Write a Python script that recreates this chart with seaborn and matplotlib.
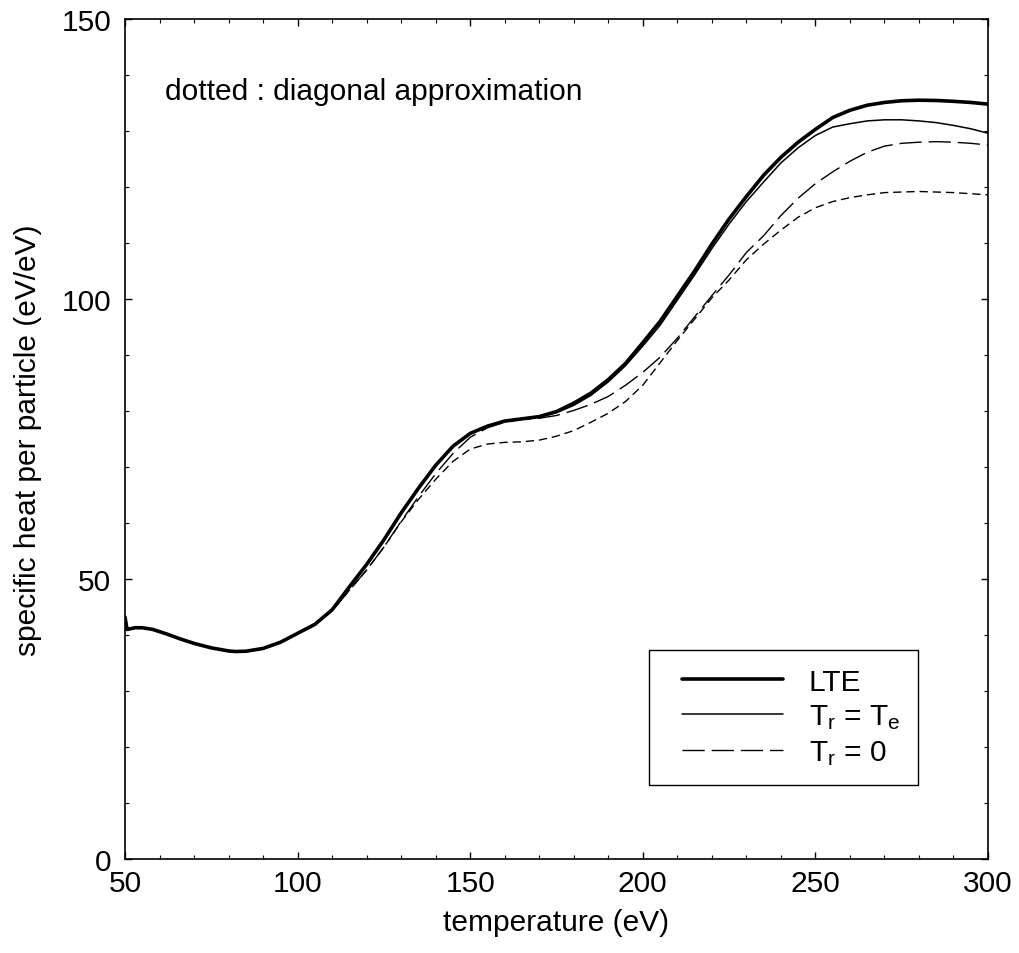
import numpy as np
import pandas as pd
import matplotlib
matplotlib.use("Agg")
import matplotlib.pyplot as plt
import seaborn as sns
from matplotlib.ticker import MultipleLocator
from matplotlib.legend_handler import HandlerLine2D
from matplotlib.lines import Line2D

# ---------------- data ----------------
x_common = [50, 50.6, 53, 55, 58, 62, 66, 70, 75, 80, 82, 85, 90, 95, 100, 105]
y_common = [43.2, 41.0, 41.3, 41.3, 41.0, 40.2, 39.3, 38.5, 37.7, 37.15, 37.05, 37.1,
            37.6, 38.7, 40.3, 41.9]

x_lte = x_common + [110, 115, 120, 125, 130, 135, 140, 145, 150, 155, 160, 165, 170, 175,
                    180, 185, 190, 195, 200, 205, 210, 215, 220, 225, 230, 235, 240, 245,
                    250, 255, 260, 265, 270, 275, 280, 285, 290, 295, 300]
y_lte = y_common + [44.5, 48.6, 52.6, 57.0, 61.8, 66.2, 70.3, 73.7, 76.0, 77.3, 78.2, 78.6,
                    79.0, 79.9, 81.4, 83.2, 85.6, 88.5, 92.2, 96.0, 100.5, 105.0, 109.8,
                    114.3, 118.3, 122.1, 125.3, 128.0, 130.3, 132.4, 133.7, 134.6, 135.1,
                    135.4, 135.5, 135.45, 135.3, 135.1, 134.8]

x_tre = x_lte
y_tre = y_common + [44.5, 48.6, 52.6, 57.0, 61.8, 66.2, 70.3, 73.7, 76.0, 77.3, 78.2, 78.6,
                    78.9, 79.7, 81.0, 82.8, 85.2, 88.1, 91.6, 95.3, 99.8, 104.3, 109.0,
                    113.4, 117.4, 120.9, 124.3, 127.0, 129.2, 130.7, 131.3, 131.8, 132.0,
                    132.0, 131.8, 131.5, 131.0, 130.4, 129.6]

x_tr0 = x_lte
y_tr0 = y_common + [44.3, 48.0, 51.6, 55.7, 60.3, 64.7, 68.8, 72.4, 75.3, 77.0, 78.0, 78.5,
                    78.7, 79.2, 80.1, 81.2, 82.6, 84.6, 86.9, 89.6, 93.0, 96.8, 100.6,
                    104.3, 108.3, 111.3, 114.9, 118.0, 120.6, 122.7, 124.6, 126.2, 127.3,
                    127.8, 128.0, 128.1, 128.0, 127.8, 127.5]

x_diag = x_lte
y_diag = y_common + [44.3, 48.0, 51.6, 55.7, 60.2, 64.2, 67.8, 71.0, 73.2, 74.1, 74.4, 74.5,
                     74.8, 75.5, 76.5, 78.0, 79.6, 81.7, 84.6, 88.6, 92.6, 96.4, 100.2,
                     103.4, 107.0, 109.8, 112.3, 114.6, 116.3, 117.4, 118.1, 118.6, 119.0,
                     119.1, 119.2, 119.1, 119.0, 118.8, 118.6]

labels = ["LTE", r"$T_r$ = $T_e$", r"$T_r$ = 0"]
x_ticks = [50, 100, 150, 200, 250, 300]
y_ticks = [0, 50, 100, 150]

# ---------------- styling ----------------
sns.set_theme(style="ticks")
plt.rcParams["font.family"] = ["Liberation Sans", "DejaVu Sans"]
plt.rcParams["mathtext.default"] = "regular"
for k in ["text.color", "axes.labelcolor", "xtick.color", "ytick.color",
          "axes.edgecolor"]:
    plt.rcParams[k] = "black"

fig = plt.figure(figsize=(10.19, 9.54), dpi=100)
ax = fig.add_axes([125 / 1019, 1 - 860 / 954, (988 - 125) / 1019, (860 - 20) / 954])

FS = 21.5

sns.lineplot(x=x_diag, y=y_diag, ax=ax, color="black", lw=1.0, estimator=None,
             sort=False, linestyle=(0, (6, 3.5)))
sns.lineplot(x=x_tr0, y=y_tr0, ax=ax, color="black", lw=1.0, estimator=None,
             sort=False, linestyle=(0, (16, 5)), label=labels[2])
sns.lineplot(x=x_tre, y=y_tre, ax=ax, color="black", lw=1.1, estimator=None,
             sort=False, label=labels[1])
sns.lineplot(x=x_lte, y=y_lte, ax=ax, color="black", lw=2.6, estimator=None,
             sort=False, label=labels[0])

ax.set_xlim(50, 300)
ax.set_ylim(0, 150)
ax.set_xticks(x_ticks)
ax.set_yticks(y_ticks)
ax.xaxis.set_minor_locator(MultipleLocator(10))
ax.yaxis.set_minor_locator(MultipleLocator(10))
ax.tick_params(which="both", direction="in", top=True, right=True, color="black",
               labelcolor="black", labelsize=FS)
ax.tick_params(which="major", length=5, width=1.0)
ax.tick_params(which="minor", length=3, width=0.8)
ax.tick_params(axis="x", which="major", pad=7)
ax.tick_params(axis="y", which="major", pad=10)
for s in ax.spines.values():
    s.set_visible(True)
    s.set_color("black")
    s.set_linewidth(1.2)

ax.set_xlabel("temperature (eV)", fontsize=FS, labelpad=8, color="black")
ax.set_ylabel("specific heat per particle (eV/eV)", fontsize=FS, labelpad=14,
              color="black")

ax.text(61.6, 137.1, "dotted : diagonal approximation", fontsize=FS, va="center",
        ha="left", color="black")

h, l = ax.get_legend_handles_labels()
order = [l.index(lbl) for lbl in labels]
leg = ax.legend([h[i] for i in order], [l[i] for i in order], loc="lower left",
                bbox_to_anchor=(649 / 1019, 1 - 786 / 954), bbox_transform=fig.transFigure,
                fontsize=FS, frameon=True, fancybox=False, framealpha=1,
                edgecolor="black", handlelength=3.9, handletextpad=0.85,
                labelspacing=0.23, borderpad=0.6, borderaxespad=0,
                handler_map={Line2D: HandlerLine2D(xpad=0.5)})
leg.get_frame().set_linewidth(1.0)

fig.savefig("out.png", dpi=100)
